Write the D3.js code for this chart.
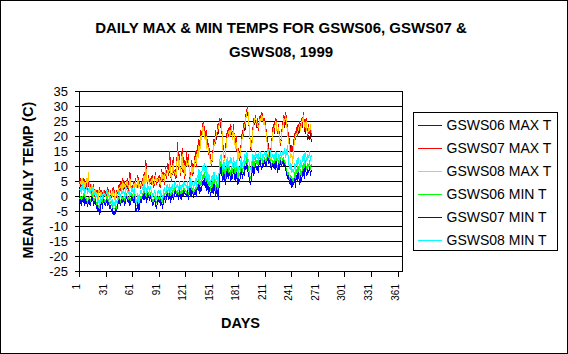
<!DOCTYPE html>
<html>
<head>
<meta charset="utf-8">
<script src="https://cdn.jsdelivr.net/npm/d3@7"></script>
<style>
  body { margin: 0; background: #fff; }
  svg { display: block; }
  text { font-family: "Liberation Sans", Arial, sans-serif; fill: #000; }
</style>
</head>
<body>
<div id="chart"></div>
<script>
// tick labels
var xTicks = [1, 31, 61, 91, 121, 151, 181, 211, 241, 271, 301, 331, 361];
var yTicks = [35, 30, 25, 20, 15, 10, 5, 0, -5, -10, -15, -20, -25];

var seriesNames = ["GSWS06 MAX T", "GSWS07 MAX T", "GSWS08 MAX T",
                   "GSWS06 MIN T", "GSWS07 MIN T", "GSWS08 MIN T"];
var seriesColors = ["#800000", "#ff0000", "#ffcc00", "#00ff00", "#0000ff", "#00ffff"];

// daily values (deg C), day 1 .. 263
var gsws06Max = [
  3,5,2,4,3,5,3,2,4,3, 4,3,3,1,2,2,3,0,1,1, 1,0,1,2,0,1,0,-1,1,1,
  1,0,2,1,-1,1,0,1,2,1, 0,-1,1,1,2,3,2,4,3,5, 2,4,3,3,5,2,4,7,3,2,
  3,4,2,5,3,3,6,4,4,3, 4,5,3,7,4,11,5,4,6,4, 5,4,6,4,3,5,7,4,5,5,
  6,3,5,8,5,7,4,9,6,8, 10,7,13,7,5,9,12,7,8,6, 11,16,9,13,7,10,15,8,12,6,
  9,13,10,13,9,5,7,11,7,9, 11,14,10,16,13,18,15,21,19,23, 24,22,19,21,16,18,14,15,12,10,
  12,15,18,17,21,19,23,21,25,23, 25,21,17,14,12,15,18,21,20,22, 20,23,21,20,23,19,17,19,15,13,
  15,12,14,18,21,20,24,22,26,28, 28,25,22,18,15,18,22,25,24,26, 23,25,22,24,26,25,27,26,24,25,
  23,22,20,18,16,14,15,17,20,23, 21,24,25,22,21,23,19,17,19,22, 24,26,23,27,25,22,21,19,17,16,
  17,16,18,20,19,22,20,23,21,24, 22,25,23,27,24,21,25,22,19,20, 19,21,18
];
var gsws07Max = [
  4,6,3,5,2,6,4,3,5,2, 5,3,4,1,3,2,4,0,1,2, 2,0,1,3,-1,2,1,0,2,1,
  2,0,3,1,-1,2,0,1,3,2, 0,-1,2,1,3,4,2,5,3,6, 2,5,3,4,6,2,5,8,4,2,
  3,5,2,6,4,3,7,4,5,3, 4,6,3,8,5,12,6,4,7,5, 6,4,7,5,3,6,8,4,6,5,
  7,3,6,9,5,8,4,10,6,9, 11,7,15,8,5,10,13,7,9,6, 12,18,9,14,7,11,16,8,13,6,
  10,15,11,14,9,5,8,12,7,10, 12,15,10,17,14,19,16,22,20,24, 25,23,20,22,17,19,14,16,12,10,
  13,16,19,17,22,20,24,22,26,24, 26,21,18,14,12,16,19,22,20,23, 21,24,22,20,24,19,17,20,15,13,
  16,12,15,19,22,20,25,23,27,29, 30,26,22,18,15,19,23,26,25,27, 24,26,22,25,27,26,28,27,25,26,
  24,22,19,17,14,12,15,18,21,24, 22,25,26,23,21,24,19,17,20,23, 25,27,24,28,26,22,21,18,16,15,
  17,15,18,21,19,23,20,24,22,25, 23,26,24,28,25,22,26,23,20,24, 21,23,20
];
var gsws08Max = [
  3,5,4,6,3,5,3,4,6,3, 8,4,3,2,4,1,3,1,2,1, 1,-1,2,2,0,1,0,1,1,0,
  1,1,2,0,0,1,1,0,2,1, -1,0,1,2,2,3,3,4,2,5, 3,4,2,5,5,3,4,6,3,3,
  2,4,3,5,3,4,6,3,4,4, 3,5,4,7,4,10,5,5,6,4, 5,5,6,4,4,5,7,5,5,6,
  6,4,5,8,6,7,5,9,7,8, 9,8,12,7,6,9,11,8,8,7, 11,15,10,12,8,10,14,9,11,7,
  9,12,10,12,10,6,7,10,8,9, 11,13,11,15,13,17,15,20,19,22, 24,21,19,20,16,17,15,14,11,11,
  12,15,17,18,20,21,22,23,24,25, 25,22,16,13,12,14,18,20,21,22, 20,22,23,19,22,20,16,18,16,12,
  15,13,14,18,20,21,23,24,26,28, 29,27,21,19,16,18,22,24,26,26, 25,24,23,24,26,25,27,26,24,25,
  23,21,18,16,13,11,14,17,20,22, 23,24,25,22,22,23,18,18,19,22, 24,26,25,27,25,21,19,17,14,13,
  14,11,16,19,20,21,21,22,23,24, 22,25,25,27,24,23,25,22,21,23, 22,24,21
];
var gsws06Min = [
  -1,0,-2,0,-1,1,-2,0,-1,-2, -1,0,-2,-1,1,0,-2,-1,0,-3, -2,-4,-3,-4,-2,-1,-3,0,-1,-2,
  -1,0,-2,-1,-3,-2,-3,-3,-4,-4, -4,-3,-4,-2,-1,0,-2,-1,0,-1, 0,-2,-1,1,0,-1,0,-2,-1,1,
  0,-1,1,-2,-3,-3,-1,-3,-2,0, -1,1,0,2,0,1,-1,2,1,0, 1,0,-1,-2,-1,0,-2,-2,-1,0,
  -1,0,-2,-1,-2,0,1,-1,0,2, 1,0,2,-1,1,2,0,1,3,2, 1,2,0,3,1,0,2,1,3,2,
  2,1,3,0,2,4,1,3,2,1, 2,3,1,4,3,6,3,5,4,7, 6,8,5,7,4,6,3,5,2,4,
  5,3,6,4,2,5,3,1,7,10, 12,9,7,10,8,6,9,11,8,10, 9,7,10,8,11,9,7,10,8,6,
  8,7,9,11,8,10,9,12,11,13, 11,9,8,6,7,10,12,9,11,13, 11,12,10,13,13,11,11,12,11,13,
  12,11,13,14,12,13,11,10,12,11, 12,10,13,11,9,12,10,13,11,12, 13,11,12,10,9,7,8,6,5,7,
  4,6,5,8,5,9,7,10,8,6, 9,7,10,11,8,12,10,9,11,10, 12,9,11
];
var gsws07Min = [
  -2,-1,-3,-1,-2,0,-3,-1,-2,-3, -2,-1,-3,-2,0,-1,-3,-2,-1,-4, -3,-5,-4,-6,-3,-2,-4,-1,-2,-3,
  -2,-1,-3,-2,-4,-3,-5,-4,-6,-5, -6,-4,-5,-3,-2,-1,-3,-2,-1,-2, -1,-3,-2,0,-1,-2,-1,-3,-2,0,
  -1,-2,0,-3,-5,-4,-2,-5,-3,-1, -2,0,-1,1,-1,0,-2,1,0,-1, 0,-1,-2,-3,-2,-1,-3,-4,-2,-1,
  -2,-1,-3,-2,-4,-1,0,-2,-1,1, 0,-1,1,-2,0,1,-1,0,2,1, 0,1,-1,2,0,-1,1,0,2,1,
  1,0,2,-1,1,3,0,2,1,0, 1,2,0,3,2,4,1,3,2,5, 4,6,3,5,2,4,1,3,0,2,
  3,1,4,2,0,3,1,-1,5,8, 10,7,5,8,6,4,7,9,6,8, 7,5,8,6,9,7,5,8,6,4,
  6,5,7,9,6,8,7,10,9,11, 9,7,6,4,5,8,10,7,9,11, 9,10,8,11,12,10,9,11,10,12,
  11,10,12,13,11,12,10,9,11,10, 11,9,12,10,8,11,9,12,10,11, 12,10,11,9,8,6,7,5,4,6,
  3,5,4,6,3,7,5,8,6,4, 7,5,8,9,6,10,8,7,9,8, 10,7,9
];
var gsws08Min = [
  2,3,1,4,2,3,1,2,3,1, 2,3,1,2,3,2,0,1,2,0, 0,-2,-1,-3,0,1,-1,2,1,0,
  1,2,0,1,-1,0,-2,-1,-3,-2, -3,-1,-2,0,1,2,0,1,2,1, 2,0,1,3,2,1,2,0,1,3,
  2,1,3,0,-2,-1,1,-2,0,2, 1,3,2,4,2,3,1,4,3,2, 3,2,1,0,1,2,0,-1,1,2,
  1,2,0,1,-1,2,3,1,2,4, 3,2,4,1,3,4,2,3,5,4, 3,4,2,5,3,2,4,3,5,4,
  4,3,5,2,4,6,3,5,4,3, 4,6,3,7,6,9,5,8,7,10, 9,11,8,10,6,8,5,7,4,6,
  7,5,8,6,5,7,6,4,10,13, 14,11,9,12,10,8,11,13,10,12, 11,13,12,10,13,11,9,12,10,8,
  10,9,11,13,10,12,11,14,13,15, 13,12,11,9,10,12,14,12,13,15, 13,14,12,15,15,13,12,14,13,15,
  14,13,15,16,15,16,14,12,14,13, 14,12,15,13,12,14,12,15,13,14, 15,14,16,13,15,17,12,10,9,11,
  8,9,8,11,8,12,10,13,11,9, 12,10,13,14,11,15,13,12,14,13, 15,12,14
];

var allSeries = [gsws06Max, gsws07Max, gsws08Max, gsws06Min, gsws07Min, gsws08Min];

var width = 568, height = 354;

var svg = d3.select("#chart")
  .append("svg")
  .attr("width", width)
  .attr("height", height);

svg.append("rect")
  .attr("x", 0.5).attr("y", 0.5)
  .attr("width", width - 1).attr("height", height - 1)
  .attr("fill", "#fff")
  .attr("stroke", "#000");

// scales: day axis runs 1..366
var x = d3.scaleLinear().domain([1, 366]).range([79.5, 402.5]);
var y = d3.scaleLinear().domain([-25, 35]).range([271.5, 91.5]);

var plot = svg.append("g").attr("shape-rendering", "crispEdges");

// horizontal gridlines
plot.selectAll(".grid")
  .data(yTicks)
  .join("line")
  .attr("class", "grid")
  .attr("x1", x.range()[0]).attr("x2", x.range()[1])
  .attr("y1", (d) => y(d)).attr("y2", (d) => y(d))
  .attr("stroke", "#000");

// left axis + right border
plot.append("line")
  .attr("x1", x.range()[0]).attr("x2", x.range()[0])
  .attr("y1", y(35)).attr("y2", y(-25) + 1)
  .attr("stroke", "#000");
plot.append("line")
  .attr("x1", x.range()[1]).attr("x2", x.range()[1])
  .attr("y1", y(35)).attr("y2", y(-25))
  .attr("stroke", "#000");

// y ticks and labels
plot.selectAll(".ytick")
  .data(yTicks)
  .join("line")
  .attr("class", "ytick")
  .attr("x1", x.range()[0] - 5).attr("x2", x.range()[0])
  .attr("y1", (d) => y(d)).attr("y2", (d) => y(d))
  .attr("stroke", "#000");

svg.selectAll(".ylabel")
  .data(yTicks)
  .join("text")
  .attr("class", "ylabel")
  .attr("x", 68)
  .attr("y", (d) => y(d))
  .attr("dy", "0.35em")
  .attr("text-anchor", "end")
  .attr("font-size", 13)
  .text((d) => d);

// x ticks and labels
plot.selectAll(".xtick")
  .data(xTicks)
  .join("line")
  .attr("class", "xtick")
  .attr("x1", (d) => x(d)).attr("x2", (d) => x(d))
  .attr("y1", y(-25)).attr("y2", y(-25) + 5)
  .attr("stroke", "#000");

svg.selectAll(".xlabel")
  .data(xTicks)
  .join("text")
  .attr("class", "xlabel")
  .attr("transform", (d) => "translate(" + (x(d) + 0.5) + ",284) rotate(-90)")
  .attr("text-anchor", "end")
  .attr("font-size", 10)
  .text((d) => d);

// data lines, drawn in legend order
var line = d3.line()
  .x((d, i) => x(i + 1))
  .y((d) => y(d));

plot.selectAll(".series")
  .data(allSeries)
  .join("path")
  .attr("class", "series")
  .attr("fill", "none")
  .attr("stroke", (d, i) => seriesColors[i])
  .attr("stroke-width", 1)
  .attr("d", line);

// titles
var title = svg.append("text")
  .attr("text-anchor", "middle")
  .attr("font-size", 15)
  .attr("font-weight", "bold");
title.append("tspan").attr("x", 281).attr("y", 33)
  .text("DAILY MAX & MIN TEMPS FOR GSWS06, GSWS07 &");
title.append("tspan").attr("x", 281).attr("y", 57)
  .text("GSWS08, 1999");

svg.append("text")
  .attr("transform", "translate(33,180) rotate(-90)")
  .attr("text-anchor", "middle")
  .attr("font-size", 14.5)
  .attr("font-weight", "bold")
  .text("MEAN DAILY TEMP (C)");

svg.append("text")
  .attr("x", 240.5)
  .attr("y", 328)
  .attr("text-anchor", "middle")
  .attr("font-size", 14.5)
  .attr("font-weight", "bold")
  .text("DAYS");

// legend
var legend = svg.append("g").attr("transform", "translate(413.5,112.5)");
legend.append("rect")
  .attr("width", 144).attr("height", 138)
  .attr("fill", "#fff").attr("stroke", "#000")
  .attr("shape-rendering", "crispEdges");

var items = legend.selectAll(".item")
  .data(seriesNames)
  .join("g")
  .attr("class", "item")
  .attr("transform", (d, i) => "translate(0," + (13 + i * 22.9) + ")");

items.append("line")
  .attr("x1", 4).attr("x2", 28)
  .attr("stroke", (d, i) => seriesColors[i])
  .attr("shape-rendering", "crispEdges");

items.append("text")
  .attr("x", 33)
  .attr("dy", "0.35em")
  .attr("font-size", 14)
  .text((d) => d);
</script>
</body>
</html>
